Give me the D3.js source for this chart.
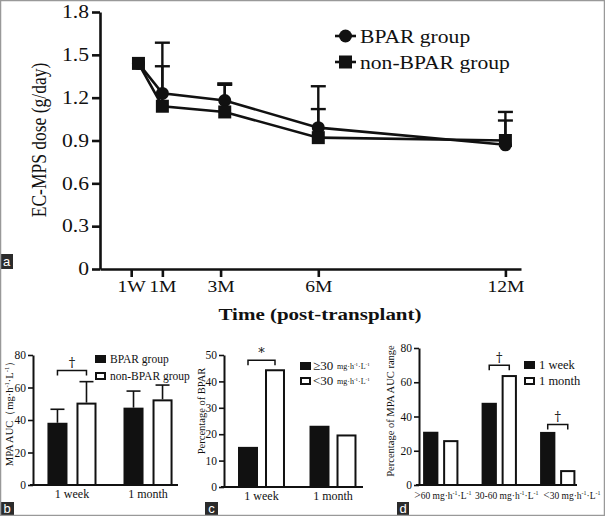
<!DOCTYPE html>
<html><head><meta charset="utf-8">
<script src="https://cdn.jsdelivr.net/npm/d3@7"></script>
<style>
body{margin:0;background:#fff;}
svg{display:block;}
text{font-family:"Liberation Serif","Times New Roman",serif;fill:#111;}
</style></head>
<body>
<script>
// ---------- Panel a data ----------
const timeLabels = ["1W","1M","3M","6M","12M"];
const timeDays   = [7, 30, 90, 180, 360];      // position of data points (days)
const tickDays   = [0, 30, 86, 180, 360];      // position of tick labels (days)
const doseTicks  = [0, 0.3, 0.6, 0.9, 1.2, 1.5, 1.8];
const bparMean   = [1.44, 1.23, 1.18, 0.99, 0.87];
const bparUpper  = [null, 1.585, 1.30, 1.28, 1.10];
const nonMean    = [1.44, 1.14, 1.10, 0.92, 0.90];
const nonUpper   = [null, 1.42, 1.29, 1.12, 1.04];
const seriesA    = ["BPAR group", "non-BPAR group"];

// ---------- Panel b data ----------
const aucCats    = ["1 week", "1 month"];
const aucSeries  = ["BPAR group", "non-BPAR group"];
const aucBpar    = [38.3, 47.6];
const aucBparSd  = [8.3, 10.2];
const aucNon     = [50.7, 52.7];
const aucNonSd   = [12.9, 8.8];
const aucTicks   = [0, 20, 40, 60, 80];

// ---------- Panel c data ----------
const pctCats    = ["1 week", "1 month"];
const pctSeries  = ["≥30", "<30"];
const pctHigh    = [15.2, 23.2];
const pctLow     = [44.6, 19.9];
const pctTicks   = [0, 10, 20, 30, 40, 50];

// ---------- Panel d data ----------
const rangeCats  = [">60", "30-60", "<30"];
const rangeSeries= ["1 week", "1 month"];
const rangeWeek  = [31.1, 48.0, 31.0];
const rangeMonth = [26.2, 64.2, 8.7];
const rangeTicks = [0, 20, 40, 60, 80];

const W = 605, H = 516;
const INK = "#111";
const svg = d3.select("body").append("svg").attr("width", W).attr("height", H);
svg.append("rect").attr("width", W).attr("height", H).attr("fill", "#fff");

function txt(g, x, y, s, o = {}) {
  const sx = o.sx || 1;
  let tr = `translate(${x},${y}) scale(${sx},1)` + (o.rot ? ` rotate(${o.rot})` : "");
  const t = g.append("text").attr("transform", tr)
    .attr("text-anchor", o.anchor || "start")
    .attr("font-size", o.size || 12)
    .attr("font-weight", o.weight || "normal")
    .attr("fill", o.fill || INK);
  if (o.family) t.style("font-family", o.family);
  if (o.fill) t.style("fill", o.fill);
  if (s) t.text(s);
  return t;
}
// unit string with superscripts appended to a text element
function unitSpans(t, size, pre, post) {
  const sup = size * 0.62, up = size * 0.38;
  if (pre) t.append("tspan").text(pre);
  t.append("tspan").text("mg·h");
  t.append("tspan").attr("font-size", sup).attr("dy", -up).text("-1");
  t.append("tspan").attr("dy", up).text("·L");
  t.append("tspan").attr("font-size", sup).attr("dy", -up).text("-1");
  if (post) t.append("tspan").attr("dy", up).text(post);
}
function labelBox(x, y, w, h, s) {
  svg.append("rect").attr("x", x).attr("y", y).attr("width", w).attr("height", h).attr("fill", "#2b2b2b");
  txt(svg, x + w / 2, y + h - 3, s, {anchor: "middle", size: 13, family: "Liberation Sans, Arial, sans-serif", fill: "#fff"});
}

// ================= Panel a =================
(function () {
  const SX = 1.2;
  const g = svg.append("g");
  const x = d3.scaleLinear().domain([-30, 375]).range([100, 521]);
  const y = d3.scaleLinear().domain([0, 1.8]).range([269, 12]);

  const ax = g.append("g").attr("transform", "translate(0,269)")
    .call(d3.axisBottom(x).tickValues(tickDays).tickFormat((d, i) => timeLabels[i]).tickSize(8).tickSizeOuter(0));
  const ay = g.append("g").attr("transform", "translate(100,0)")
    .call(d3.axisLeft(y).tickValues(doseTicks).tickFormat(d => d === 0 ? "0" : d.toFixed(1)).tickSize(8).tickSizeOuter(0));
  [ax, ay].forEach(a => {
    a.select(".domain").attr("stroke", INK).attr("stroke-width", 2.6);
    a.selectAll(".tick line").attr("stroke", INK).attr("stroke-width", 2.6);
    a.selectAll("text").attr("font-size", 18).style("font-family", '"Liberation Serif",serif').attr("fill", INK);
  });
  ax.selectAll("text").attr("font-size", 17.5).attr("transform", `scale(1.12,1)`);
  ay.selectAll("text").attr("transform", `scale(${SX},1)`).attr("x", -11 / SX);

  const line = d3.line().x((d, i) => x(timeDays[i])).y(d => y(d));
  [bparMean, nonMean].forEach(m => {
    g.append("path").datum(m).attr("d", line).attr("fill", "none").attr("stroke", INK).attr("stroke-width", 2.6);
  });
  // error bars
  [[bparMean, bparUpper], [nonMean, nonUpper]].forEach(([m, u]) => {
    u.forEach((v, i) => {
      if (v == null) return;
      const cx = x(timeDays[i]);
      g.append("line").attr("x1", cx).attr("x2", cx).attr("y1", y(m[i])).attr("y2", y(v)).attr("stroke", INK).attr("stroke-width", 2.4);
      g.append("line").attr("x1", cx - 7.5).attr("x2", cx + 7.5).attr("y1", y(v)).attr("y2", y(v)).attr("stroke", INK).attr("stroke-width", 2.4);
    });
  });
  // markers
  g.selectAll("circle.bp").data(bparMean).enter().append("ellipse")
    .attr("cx", (d, i) => x(timeDays[i])).attr("cy", d => y(d)).attr("rx", 6.5).attr("ry", 6.5).attr("fill", INK);
  g.selectAll("rect.nb").data(nonMean).enter().append("rect")
    .attr("x", (d, i) => x(timeDays[i]) - 6.5).attr("y", d => y(d) - 6.5).attr("width", 13).attr("height", 13).attr("fill", INK);

  // legend
  const ly = [36, 62];
  seriesA.forEach((s, i) => {
    g.append("line").attr("x1", 335).attr("x2", 356).attr("y1", ly[i]).attr("y2", ly[i]).attr("stroke", INK).attr("stroke-width", 2.6);
    if (i === 0) g.append("circle").attr("cx", 345.5).attr("cy", ly[i]).attr("r", 6.5).attr("fill", INK);
    else g.append("rect").attr("x", 339).attr("y", ly[i] - 6.5).attr("width", 13).attr("height", 13).attr("fill", INK);
    txt(g, 360, ly[i] + 7, s, {size: 18, sx: SX});
  });
  // titles
  txt(g, 320, 320, "Time (post-transplant)", {size: 17.5, weight: "bold", anchor: "middle", sx: SX});
  txt(g, 46, 140, "EC-MPS dose (g/day)", {size: 17.5, anchor: "middle", rot: -90, sx: SX});
  labelBox(0, 254, 13, 15, "a");
})();

// generic grouped bar panel
function barPanel(cfg) {
  const g = svg.append("g");
  const x = d3.scaleBand().domain(cfg.cats).range(cfg.xr).paddingInner(cfg.pi).paddingOuter(cfg.po);
  const xi = d3.scaleBand().domain(cfg.series).range([0, x.bandwidth()]).paddingInner(cfg.bpi);
  const y = d3.scaleLinear().domain([0, cfg.max]).range(cfg.yr);
  const ay = g.append("g").attr("transform", `translate(${cfg.xr[0]},0)`)
    .call(d3.axisLeft(y).tickValues(cfg.ticks).tickSize(5).tickSizeOuter(0).tickPadding(2));
  ay.select(".domain").attr("stroke", INK).attr("stroke-width", 2);
  ay.selectAll(".tick line").attr("stroke", INK).attr("stroke-width", 1.6);
  ay.selectAll("text").attr("font-size", cfg.tickSize || 11.5).style("font-family", '"Liberation Serif",serif').attr("fill", INK);
  g.append("line").attr("x1", cfg.xr[0] - 3).attr("x2", cfg.axisEnd).attr("y1", cfg.yr[0]).attr("y2", cfg.yr[0])
    .attr("stroke", INK).attr("stroke-width", 2);

  cfg.values.forEach((vals, si) => {
    const filled = si === 0;
    g.selectAll(null).data(vals).enter().append("rect")
      .attr("x", (d, i) => x(cfg.cats[i]) + xi(cfg.series[si]) + (filled ? 0 : 1))
      .attr("y", d => y(d) + (filled ? 0 : 1))
      .attr("width", xi.bandwidth() - (filled ? 0 : 2))
      .attr("height", d => y(0) - y(d) - (filled ? 0 : 1))
      .attr("fill", filled ? INK : "#fff").attr("stroke", filled ? "none" : INK).attr("stroke-width", 2);
    if (cfg.sd) {
      cfg.sd[si].forEach((s, i) => {
        const cx = x(cfg.cats[i]) + xi(cfg.series[si]) + xi.bandwidth() / 2;
        const top = y(vals[i] + s);
        g.append("line").attr("x1", cx).attr("x2", cx).attr("y1", y(vals[i])).attr("y2", top).attr("stroke", INK).attr("stroke-width", 1.6);
        g.append("line").attr("x1", cx - 7).attr("x2", cx + 7).attr("y1", top).attr("y2", top).attr("stroke", INK).attr("stroke-width", 1.6);
      });
    }
  });
  // significance brackets
  (cfg.brackets || []).forEach(b => {
    const c = cfg.cats[b.cat];
    const x1 = x(c) + xi(cfg.series[0]) + xi.bandwidth() / 2;
    const x2 = x(c) + xi(cfg.series[1]) + xi.bandwidth() / 2;
    const yy = y(b.level);
    g.append("path").attr("d", `M${x1},${yy + 5}V${yy}H${x2}V${yy + 5}`).attr("fill", "none").attr("stroke", INK).attr("stroke-width", 1.5);
    txt(g, (x1 + x2) / 2, yy - 3, b.mark, {anchor: "middle", size: 13, family: '"DejaVu Serif",serif'});
  });
  // category labels
  cfg.cats.forEach((c, i) => {
    const cx = x(c) + x.bandwidth() / 2 + (cfg.catShift ? cfg.catShift[i] : 0);
    cfg.catLabel(g, cx, cfg.yr[0] + (cfg.catDy || 13), c);
  });
  // legend
  cfg.series.forEach((s, i) => {
    const ly = cfg.legY[i];
    g.append("rect").attr("x", cfg.legX + (i ? 1 : 0)).attr("y", ly - 7 + (i ? 1 : 0)).attr("width", 11 - (i ? 2 : 0)).attr("height", 8 - (i ? 2 : 0))
      .attr("fill", i ? "#fff" : INK).attr("stroke", i ? INK : "none").attr("stroke-width", 2);
    cfg.legText(g, cfg.legX + 15, ly + 1, s);
  });
  cfg.yTitle(g);
  return g;
}

// ================= Panel b =================
barPanel({
  cats: aucCats, series: aucSeries, values: [aucBpar, aucNon], sd: [aucBparSd, aucNonSd],
  xr: [33, 187], pi: 0.355, po: 0.19, bpi: 0.31, max: 80, yr: [485, 355], ticks: aucTicks, axisEnd: 178,
  brackets: [{cat: 0, level: 70.5, mark: "†"}],
  catLabel: (g, cx, y, c) => txt(g, cx, y, c, {anchor: "middle", size: 12}),
  legX: 95, legY: [362, 379],
  legText: (g, x, y, s) => txt(g, x, y, s, {size: 11.5}),
  yTitle: g => {
    const t = txt(g, 13, 411, "", {anchor: "middle", size: 10.5, rot: -90});
    unitSpans(t, 10.5, "MPA AUC（", "）");
  }
});

// ================= Panel c =================
barPanel({
  cats: pctCats, series: pctSeries, values: [pctHigh, pctLow],
  xr: [224, 370.5], pi: 0.343, po: 0.196, bpi: 0.26, max: 50, yr: [487, 355], ticks: pctTicks, axisEnd: 363,
  brackets: [{cat: 0, level: 48, mark: "*"}],
  catLabel: (g, cx, y, c) => txt(g, cx, y, c, {anchor: "middle", size: 12}),
  legX: 300, legY: [369, 384],
  legText: (g, x, y, s) => {
    txt(g, x - 2, y, s, {size: 13});
    const t = txt(g, x + 22, y - 1, "", {size: 8});
    unitSpans(t, 8, "", "");
  },
  yTitle: g => txt(g, 205, 411, "Percentage of BPAR", {anchor: "middle", size: 10.5, rot: -90})
});

// ================= Panel d =================
barPanel({
  cats: rangeCats, series: rangeSeries, values: [rangeWeek, rangeMonth],
  xr: [419, 579.5], pi: 0.396, po: 0.07, bpi: 0.237, max: 80, yr: [485, 348], ticks: rangeTicks, axisEnd: 577,
  catShift: [2, 7.5, 14], catDy: 14,
  brackets: [{cat: 1, level: 70, mark: "†"}, {cat: 2, level: 35.4, mark: "†"}],
  catLabel: (g, cx, y, c) => {
    const t = txt(g, cx, y, "", {anchor: "middle", size: 9.5});
    if (c !== "30-60") t.append("tspan").attr("font-size", 11.5).text(c.slice(0, 1));
    unitSpans(t, 9.5, (c === "30-60" ? "30-60" : c.slice(1)) + " ", "");
  },
  legX: 524, legY: [368, 384],
  legText: (g, x, y, s) => txt(g, x, y, s, {size: 12.5}),
  yTitle: g => txt(g, 394, 411, "Percentage of MPA AUC range", {anchor: "middle", size: 10.5, rot: -90})
});

labelBox(0, 502, 14, 14, "b");
labelBox(205, 502, 13, 14, "c");
labelBox(397, 502, 12, 14, "d");

svg.append("rect").attr("x", 0.5).attr("y", 0.5).attr("width", W - 1).attr("height", H - 1)
  .attr("fill", "none").attr("stroke", "#999").attr("stroke-width", 1.5);
</script>
</body></html>
